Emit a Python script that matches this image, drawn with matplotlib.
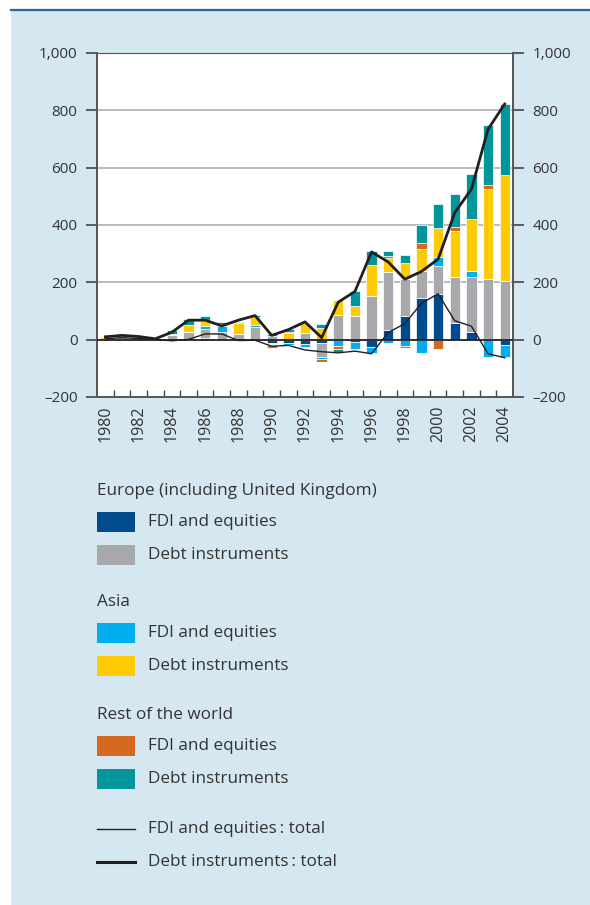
import numpy as np
import matplotlib
matplotlib.use("Agg")
import matplotlib.pyplot as plt
from matplotlib.patches import Rectangle
from matplotlib.lines import Line2D

plt.rcParams['font.family'] = ['Open Sans', 'DejaVu Sans']

years = list(range(1980, 2005))

# stacked components (billions)
eu_fdi   = [0, 4, 0, 0, 0, 0, 7, 0, 0, 0, -10, -10, -14, -11, 0, -8, -26, 33, 82, 145, 161, 59, 26, 4, -20]
eu_debt  = [3, 4, 5, 0, 16, 28, 31, 28, 21, 45, 12, 0, 23, -49, 85, 83, 154, 202, 131, 95, 96, 161, 191, 209, 203]
as_fdi   = [0, 0, 0, 0, 0, 0, 8, 19, 0, 6, -5, -8, -12, -6, -22, -23, -19, -12, -22, -45, 33, 0, 21, -60, -39]
as_debt  = [6, 4, 5, 0, 4, 24, 19, 9, 38, 28, -5, 24, 35, 42, 54, 35, 108, 49, 53, 77, 99, 158, 183, 311, 372]
row_fdi  = [0, 4, 0, 0, 0, 0, 0, 0, 0, 0, -8, 3, -3, -12, -9, -5, -4, 7, -6, 21, -33, 15, 0, 14, -6]
row_debt = [0, 0, 0, 4, 12, 21, 16, 7, 4, 8, 8, 10, 0, 14, -12, 52, 46, 20, 28, 63, 84, 115, 157, 212, 248]

fdi_total  = [3, 7, 4, 1, -4, 1, 20, 20, -3, -2, -23, -20, -36, -42, -46, -40, -49, 25, 56, 127, 160, 66, 47, -49, -63]
debt_total = [10, 15, 11, 3, 26, 68, 68, 48, 68, 84, 15, 35, 62, 7, 131, 168, 306, 271, 211, 238, 281, 443, 525, 734, 822]

y_ticks = [-200, 0, 200, 400, 600, 800, 1000]
y_tick_labels = ['\u2013200', '0', '200', '400', '600', '800', '1,000']

series = [eu_fdi, eu_debt, as_fdi, as_debt, row_fdi, row_debt]
colors = ['#004b8d', '#a7a9ac', '#00aeef', '#ffcb05', '#d5691f', '#00969b']

panel = '#d5e7f1'
txt = '#333333'
ink = '#231f20'

fig = plt.figure(figsize=(5.9, 9.05), dpi=100)
fig.patch.set_facecolor('white')
fig.add_artist(Rectangle((11 / 590, 0), 1, 1 - 11 / 905, transform=fig.transFigure,
                         facecolor=panel, edgecolor='none', zorder=-5))
fig.add_artist(Line2D([11 / 590, 1], [1 - 10 / 905] * 2, transform=fig.transFigure,
                      color='#2e62a3', lw=1.6))

ax = fig.add_axes([97 / 590, 1 - 397 / 905, 416 / 590, 344 / 905])
ax.set_facecolor('white')

x = np.array(years)
pos = np.zeros(len(years))
neg = np.zeros(len(years))
for vals, c in zip(series, colors):
    v = np.array(vals, dtype=float)
    up = np.where(v > 0, v, 0)
    dn = np.where(v < 0, v, 0)
    ax.bar(x, up, 0.62, bottom=pos, color=c, edgecolor='white', linewidth=0.5, zorder=2)
    ax.bar(x, dn, 0.62, bottom=neg, color=c, edgecolor='white', linewidth=0.5, zorder=2)
    pos += up
    neg += dn

ax.plot(x, fdi_total, color=ink, lw=1.0, zorder=4)
ax.plot(x, debt_total, color=ink, lw=2.0, zorder=4)

# grid + zero line
for yv in y_ticks[2:-1]:
    ax.axhline(yv, color='#b5b5b5', lw=1.3, zorder=1)
ax.axhline(0, color=ink, lw=1.3, zorder=3)

ax.set_xlim(1979.5, 2004.5)
ax.set_ylim(-200, 1000)

ax.set_yticks(y_ticks)
ax.set_yticklabels(y_tick_labels)
ax.tick_params(axis='y', which='both', direction='out', length=8, width=1.2, color='#444444',
               labelsize=11, labelcolor=txt, left=True, right=True, labelleft=True,
               labelright=True, pad=6)

ax.set_xticks(years[::2])
ax.set_xticklabels([str(y) for y in years[::2]], rotation=90)
ax.set_xticks(np.arange(1980.5, 2004, 1), minor=True)
ax.tick_params(axis='x', which='major', length=0, labelsize=11.5, labelcolor=txt, pad=6)
ax.tick_params(axis='x', which='minor', direction='in', length=5, width=1.0, color='#444444')

for side in ['left', 'right', 'bottom']:
    ax.spines[side].set_color('#555555')
    ax.spines[side].set_linewidth(1.4)
ax.spines['top'].set_color('#555555')
ax.spines['top'].set_linewidth(0.8)

# legend drawn by hand in figure pixels
W, H = 590, 905
def fx(px):
    return px / W
def fy(py):
    return 1 - py / H

fs = 12.3
groups = [
    ('Europe (including United Kingdom)', 491, [(colors[0], 'FDI and equities', 522), (colors[1], 'Debt instruments', 555)]),
    ('Asia', 602, [(colors[2], 'FDI and equities', 633), (colors[3], 'Debt instruments', 666)]),
    ('Rest of the world', 715, [(colors[4], 'FDI and equities', 746), (colors[5], 'Debt instruments', 779)]),
]
for head, hy, items in groups:
    fig.text(fx(97), fy(hy), head, fontsize=fs, color=txt, va='center', ha='left')
    for c, lab, iy in items:
        fig.add_artist(Rectangle((fx(97), fy(iy + 10)), 38 / W, 20 / H, transform=fig.transFigure,
                                 facecolor=c, edgecolor='none'))
        fig.text(fx(148), fy(iy), lab, fontsize=fs, color=txt, va='center', ha='left')

for lw, lab, ly in [(1.0, 'FDI and equities\u2009: total', 829), (2.2, 'Debt instruments\u2009: total', 862)]:
    fig.add_artist(Line2D([fx(97), fx(135)], [fy(ly)] * 2, transform=fig.transFigure, color=ink, lw=lw))
    fig.text(fx(148), fy(ly), lab, fontsize=fs, color=txt, va='center', ha='left')

fig.savefig('out.png', dpi=100, facecolor=fig.get_facecolor())
